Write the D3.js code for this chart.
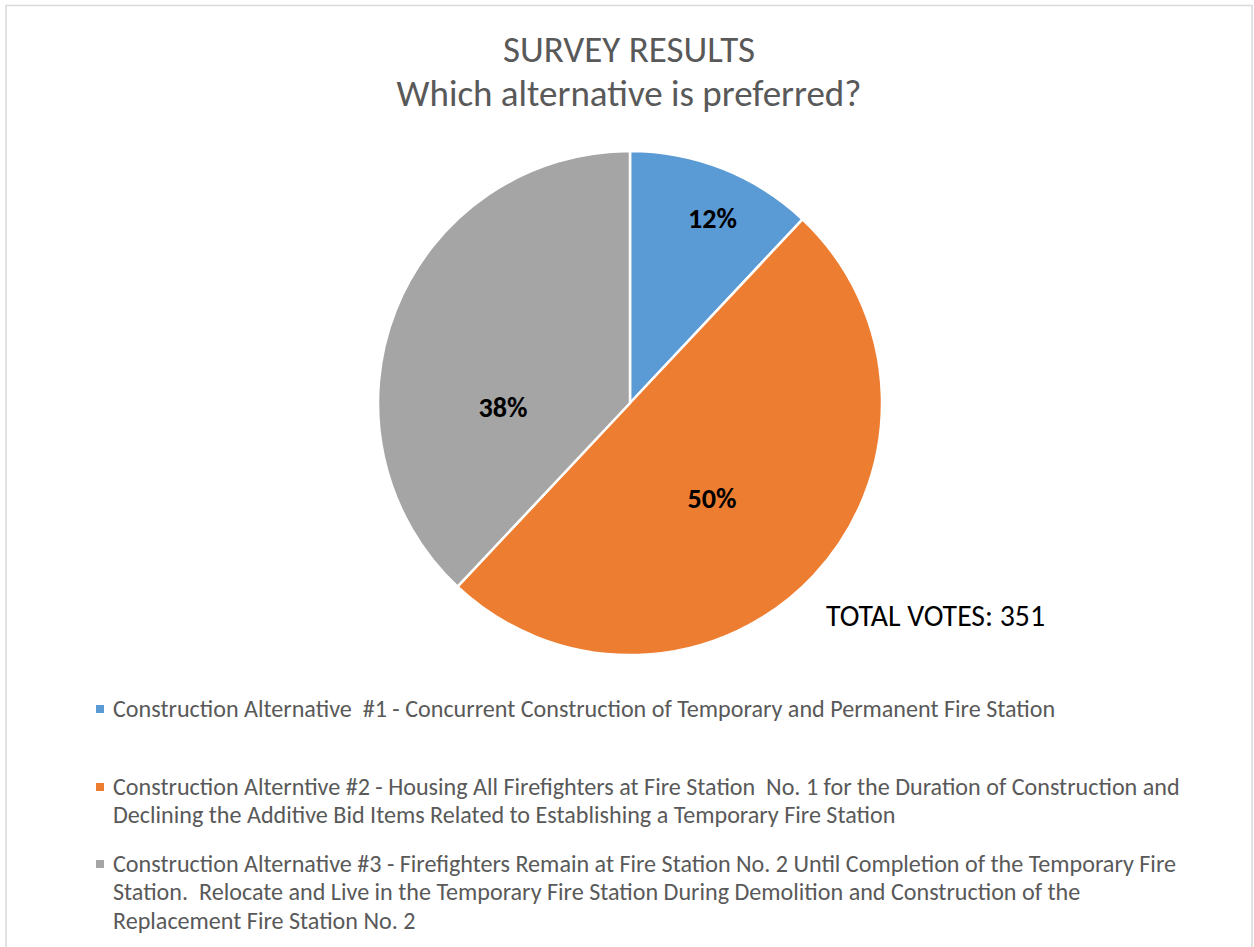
<!DOCTYPE html>
<html>
<head>
<meta charset="utf-8">
<script src="https://cdn.jsdelivr.net/npm/d3@7"></script>
<style>
  html, body { margin: 0; padding: 0; background: #fff; }
  svg { display: block; }
  svg text { white-space: pre; }
</style>
</head>
<body>
<svg id="chart" width="1254" height="947"></svg>
<script>
// Survey data
const categories = [
  "Construction Alternative  #1 - Concurrent Construction of Temporary and Permanent Fire Station",
  "Construction Alterntive #2 - Housing All Firefighters at Fire Station  No. 1 for the Duration of Construction and Declining the Additive Bid Items Related to Establishing a Temporary Fire Station",
  "Construction Alternative #3 - Firefighters Remain at Fire Station No. 2 Until Completion of the Temporary Fire Station.  Relocate and Live in the Temporary Fire Station During Demolition and Construction of the Replacement Fire Station No. 2"
];
// legend text broken into its lines
const legendLines = [
  ["Construction Alternative  #1 - Concurrent Construction of Temporary and Permanent Fire Station"],
  ["Construction Alterntive #2 - Housing All Firefighters at Fire Station  No. 1 for the Duration of Construction and",
   "Declining the Additive Bid Items Related to Establishing a Temporary Fire Station"],
  ["Construction Alternative #3 - Firefighters Remain at Fire Station No. 2 Until Completion of the Temporary Fire",
   "Station.  Relocate and Live in the Temporary Fire Station During Demolition and Construction of the",
   "Replacement Fire Station No. 2"]
];
const percentages = [12, 50, 38];
const titleLines = ["SURVEY RESULTS", "Which alternative is preferred?"];
const totalVotes = 351;

// Styling / layout
const colors = ["#5B9BD5", "#ED7D31", "#A5A5A5"];
// label placement inside each slice: fraction of radius, fraction across the slice's angle
const labelPlacement = [{ r: 0.805, t: 0.556 }, { r: 0.497, t: 0.533 }, { r: 0.504, t: 0.329 }];
const FONT = "Carlito, Calibri, Lato, 'Open Sans', sans-serif";

const svg = d3.select("#chart");

// chart frame
svg.append("rect")
  .attr("x", 6).attr("y", 5.5).attr("width", 1246).attr("height", 960)
  .attr("fill", "#fff").attr("stroke", "#d9d9d9").attr("stroke-width", 1.5);

// fit a text element to a target width by scaling its font size
function fit(sel, width) {
  const node = sel.node();
  const fs = parseFloat(sel.attr("font-size"));
  const w = node.getComputedTextLength();
  sel.attr("font-size", (fs * width / w).toFixed(2));
  return sel;
}

// title
const titleBase = [62, 106];
const titleWidths = [252, 465];
titleLines.forEach((t, i) => {
  const s = svg.append("text")
    .attr("x", 629).attr("y", titleBase[i])
    .attr("text-anchor", "middle")
    .attr("font-family", FONT).attr("font-size", 30)
    .attr("fill", "#595959")
    .text(t);
  fit(s, titleWidths[i]);
});

// pie
const cx = 630, cy = 403, R = 252;
const pie = d3.pie().sort(null).value(d => d);
const arcs = pie(percentages);
const arc = d3.arc().innerRadius(0).outerRadius(R);

const g = svg.append("g").attr("transform", `translate(${cx},${cy})`);
g.selectAll("path.slice")
  .data(arcs)
  .join("path")
  .attr("class", "slice")
  .attr("d", arc)
  .attr("fill", (d, i) => colors[i])
  .attr("stroke", "#fff")
  .attr("stroke-width", 2.5)
  .attr("stroke-linejoin", "round");

// percentage labels
const labelWidths = [49, 49, 49];
g.selectAll("text.pct")
  .data(arcs)
  .join("text")
  .attr("class", "pct")
  .attr("transform", (d, i) => {
    const p = labelPlacement[i];
    const a = d.startAngle + (d.endAngle - d.startAngle) * p.t;
    const r = R * p.r;
    return `translate(${(r * Math.sin(a)).toFixed(1)},${(-r * Math.cos(a)).toFixed(1)})`;
  })
  .attr("text-anchor", "middle")
  .attr("dy", "0.35em")
  .attr("font-family", FONT).attr("font-weight", "bold").attr("font-size", 26)
  .attr("fill", "#000")
  .text(d => d.data + "%")
  .each(function (d, i) { fit(d3.select(this), labelWidths[i]); });

// total votes note
const tv = svg.append("text")
  .attr("x", 826).attr("y", 626)
  .attr("font-family", FONT).attr("font-size", 26)
  .attr("fill", "#000")
  .text("TOTAL VOTES: " + totalVotes);
fit(tv, 219);

// legend
const legendTop = [717, 795, 872];
const lineGap = 28.3;
const legend = svg.append("g").attr("class", "legend");
// the first line is used to size all legend text
const probe = legend.append("text")
  .attr("font-family", FONT).attr("font-size", 20)
  .text(legendLines[0][0]);
const legendFs = 20 * 942 / probe.node().getComputedTextLength();
probe.remove();

legendLines.forEach((lines, i) => {
  legend.append("rect")
    .attr("x", 96).attr("y", legendTop[i] - 12)
    .attr("width", 8).attr("height", 8)
    .attr("fill", colors[i]);
  lines.forEach((ln, j) => {
    legend.append("text")
      .attr("x", 113).attr("y", legendTop[i] + j * lineGap)
      .attr("font-family", FONT).attr("font-size", legendFs.toFixed(2))
      .attr("fill", "#595959")
      .text(ln);
  });
});
</script>
</body>
</html>
